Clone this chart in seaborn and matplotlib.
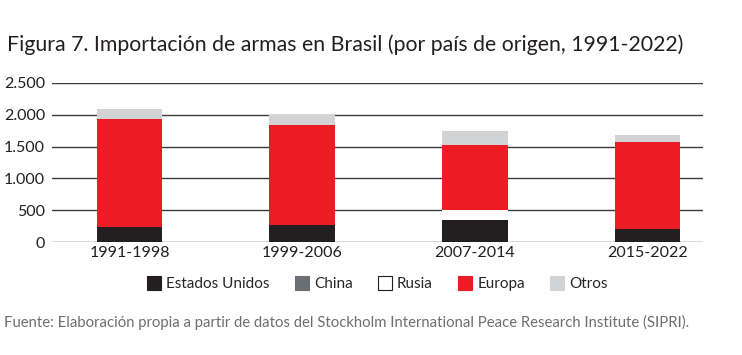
import numpy as np
import pandas as pd
import seaborn as sns
import matplotlib.pyplot as plt
from matplotlib.lines import Line2D

# Data
periods = ["1991-1998", "1999-2006", "2007-2014", "2015-2022"]
estados_unidos = [240, 275, 350, 210]
china = [0, 0, 0, 0]
rusia = [0, 0, 155, 0]
europa = [1690, 1565, 1020, 1365]
otros = [155, 150, 220, 105]

series_names = ["Estados Unidos", "China", "Rusia", "Europa", "Otros"]
series_values = [estados_unidos, china, rusia, europa, otros]
colors = ["#231f20", "#6d6e71", "#ffffff", "#ed1c24", "#d1d3d4"]

df = pd.DataFrame({name: vals for name, vals in zip(series_names, series_values)})
df["Periodo"] = periods
cum = df[series_names].cumsum(axis=1)
cum["Periodo"] = periods

sns.set_style("white")
plt.rcParams["font.family"] = ["Lato", "DejaVu Sans"]

fig = plt.figure(figsize=(7.42, 3.55), dpi=100)
ax = fig.add_axes([0.070, 0.3175, 0.877, 0.4496])

# Draw cumulative totals from top layer down so they stack
for name, color in reversed(list(zip(series_names, colors))):
    sns.barplot(data=cum, x="Periodo", y=name, color=color, width=0.38,
                saturation=1, linewidth=0, ax=ax, zorder=3)

ax.set_xlim(-0.45, 3.32)
ax.set_ylim(0, 2500)
ax.set_yticks([0, 500, 1000, 1500, 2000, 2500])
ax.set_yticklabels(["0", "500", "1.000", "1.500", "2.000", "2.500"])
ax.yaxis.grid(True, color="#3a3a3a", linewidth=1.0, zorder=0)
ax.set_axisbelow(True)
for s in ax.spines.values():
    s.set_visible(False)
ax.tick_params(axis="both", length=0, labelsize=11.5, colors="#231f20")
ax.tick_params(axis="y", pad=5)
ax.tick_params(axis="x", pad=3)
ax.set_xlabel("")
ax.set_ylabel("")

# Title and source
fig.text(0.009, 0.875, "Figura 7. Importación de armas en Brasil (por país de origen, 1991-2022)",
         fontsize=15.3, color="#231f20", va="center", ha="left")
fig.text(0.006, 0.093, "Fuente: Elaboración propia a partir de datos del Stockholm International Peace Research Institute (SIPRI).",
         fontsize=10.7, color="#6d6e71", va="center", ha="left")

# Legend
handles = [Line2D([0], [0], marker="s", linestyle="", markersize=10,
                  markerfacecolor=c, markeredgecolor=("#231f20" if c == "#ffffff" else c),
                  markeredgewidth=0.8)
           for c in colors]
fig.legend(handles, series_names, loc="center", bbox_to_anchor=(0.508, 0.2), ncol=5,
           frameon=False, fontsize=11, handletextpad=0.3, columnspacing=1.6,
           handlelength=1.0)

plt.savefig("out.png", dpi=100)
